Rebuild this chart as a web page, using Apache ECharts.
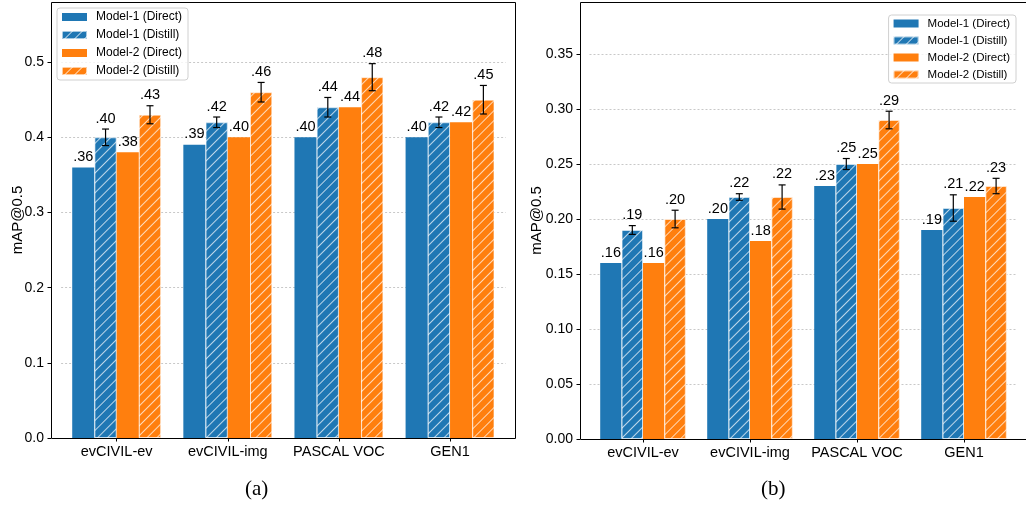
<!DOCTYPE html>
<html>
<head>
<meta charset="utf-8">
<script src="https://cdn.jsdelivr.net/npm/echarts@6/dist/echarts.min.js"></script>
<style>
  html, body { margin: 0; padding: 0; background: #fff; }
  #chart { width: 1026px; height: 506px; }
</style>
</head>
<body>
<div id="chart"></div>
<script>
// Categories and series names shared by both panels
const categories = ['evCIVIL-ev', 'evCIVIL-img', 'PASCAL VOC', 'GEN1'];
const seriesNames = ['Model-1 (Direct)', 'Model-1 (Distill)', 'Model-2 (Direct)', 'Model-2 (Distill)'];

// Panel (a)
const aM1Direct = [0.36, 0.39, 0.40, 0.40];
const aM1Distill = [0.40, 0.42, 0.44, 0.42];
const aM1DistillErr = [0.011, 0.007, 0.013, 0.007];
const aM2Direct = [0.38, 0.40, 0.44, 0.42];
const aM2Distill = [0.43, 0.46, 0.48, 0.45];
const aM2DistillErr = [0.012, 0.013, 0.018, 0.019];
const aTicks = [0, 0.1, 0.2, 0.3, 0.4, 0.5];

// Panel (b)
const bM1Direct = [0.16, 0.20, 0.23, 0.19];
const bM1Distill = [0.19, 0.22, 0.25, 0.21];
const bM1DistillErr = [0.004, 0.003, 0.005, 0.012];
const bM2Direct = [0.16, 0.18, 0.25, 0.22];
const bM2Distill = [0.20, 0.22, 0.29, 0.23];
const bM2DistillErr = [0.008, 0.011, 0.008, 0.007];
const bTicks = [0, 0.05, 0.10, 0.15, 0.20, 0.25, 0.30, 0.35];

const BLUE = '#1f77b4';
const ORANGE = '#ff7f0e';
const FONT = '"Liberation Sans", Arial, sans-serif';

function hatch(color) {
  return {
    color: 'rgba(255,255,255,0.7)',
    backgroundColor: color,
    symbol: 'rect',
    symbolSize: 1,
    dashArrayX: [1, 0],
    dashArrayY: [1, 5.5],
    rotation: -Math.PI / 4
  };
}

function barSeries(name, data, color, hatched, idx) {
  const style = { color: color };
  if (hatched) {
    style.decal = hatch(color);
    style.borderColor = 'rgba(255,255,255,0.6)';
    style.borderWidth = 1;
  }
  return {
    type: 'bar', name: name, data: data,
    xAxisIndex: idx, yAxisIndex: idx,
    barGap: '0%', barCategoryGap: '20%',
    itemStyle: style,
    emphasis: { disabled: true },
    animation: false
  };
}

// Error bars and value labels, positioned on the grouped bars
function overlaySeries(groups, idx) {
  const data = [];
  groups.forEach(function (g, s) {
    g.values.forEach(function (v, c) {
      data.push([c, s, v, g.err ? g.err[c] : 0]);
    });
  });
  return {
    type: 'custom', xAxisIndex: idx, yAxisIndex: idx, z: 5, clip: false,
    animation: false, silent: true,
    encode: { x: 0, y: 2 },
    data: data,
    renderItem: function (params, api) {
      const c = api.value(0), s = api.value(1), v = api.value(2), e = api.value(3);
      const band = api.size([1, 0])[0];
      const bw = band * 0.2;
      const base = api.coord([c, v]);
      const x = base[0] + (s - 1.5) * bw;
      const children = [];
      let topY = base[1];
      if (e > 0) {
        const yHi = api.coord([c, v + e])[1];
        const yLo = api.coord([c, v - e])[1];
        const ls = { stroke: '#000', lineWidth: 1.2 };
        children.push({ type: 'line', shape: { x1: x, y1: yHi, x2: x, y2: yLo }, style: ls });
        children.push({ type: 'line', shape: { x1: x - 3.5, y1: yHi, x2: x + 3.5, y2: yHi }, style: ls });
        children.push({ type: 'line', shape: { x1: x - 3.5, y1: yLo, x2: x + 3.5, y2: yLo }, style: ls });
        topY = yHi;
      }
      children.push({
        type: 'text', x: x, y: topY - 3,
        style: {
          text: v.toFixed(2).replace(/^0/, ''),
          fill: '#000', font: '14.5px ' + FONT,
          align: 'center', verticalAlign: 'bottom'
        }
      });
      return { type: 'group', children: children };
    }
  };
}

function xAxisFor(idx) {
  return {
    type: 'category', gridIndex: idx, data: categories,
    axisLine: { show: false },
    axisTick: { show: true, alignWithLabel: true, length: 3.5, lineStyle: { color: '#000', width: 1 } },
    axisLabel: { color: '#000', fontSize: 14.5, fontFamily: FONT, margin: 6, interval: 0 },
    splitLine: { show: false }
  };
}

function yAxisFor(idx, max, ticks, digits, offset, gap) {
  return {
    type: 'value', gridIndex: idx, min: 0, max: max, interval: ticks[1] - ticks[0],
    offset: offset,
    name: 'mAP@0.5', nameLocation: 'middle', nameGap: gap, nameMoveOverlap: false,
    nameTextStyle: { color: '#000', fontSize: 15, fontFamily: FONT },
    axisLine: { show: false },
    axisTick: { show: true, length: 3.5, lineStyle: { color: '#000', width: 1 }, customValues: ticks },
    axisLabel: {
      color: '#000', fontSize: 14, fontFamily: FONT, margin: 7,
      customValues: ticks,
      formatter: function (v) { return v.toFixed(digits); }
    },
    splitLine: { show: true, lineStyle: { color: '#c8c8c8', type: [2, 2], width: 1 } }
  };
}

function legendFor(pos, fontSize, lineHeight) {
  return Object.assign({
    orient: 'vertical',
    data: seriesNames,
    itemWidth: 25, itemHeight: 8, itemGap: 4,
    icon: 'rect',
    backgroundColor: 'rgba(255,255,255,0.8)',
    borderColor: '#d0d0d0', borderWidth: 1, borderRadius: 3,
    padding: [2, 6, 2, 4],
    selectedMode: false,
    textStyle: { color: '#000', fontSize: fontSize, fontFamily: FONT, lineHeight: lineHeight, padding: [0, 0, 0, 4] }
  }, pos);
}

const chart = echarts.init(document.getElementById('chart'), null, { renderer: 'canvas' });

chart.setOption({
  animation: false,
  backgroundColor: '#fff',
  grid: [
    { left: 61.1, right: 1026 - 505.6, top: 2, bottom: 68 },
    { left: 589.5, right: 1026 - 1017.5, top: 2, bottom: 67 }
  ],
  xAxis: [xAxisFor(0), xAxisFor(1)],
  yAxis: [yAxisFor(0, 0.58, aTicks, 1, 10.1, 26), yAxisFor(1, 0.3973, bTicks, 2, 9.5, 36)],
  legend: [
    legendFor({ left: 57, top: 8 }, 12, 14),
    legendFor({ right: 10, top: 15 }, 11.5, 13)
  ],
  series: [
    barSeries(seriesNames[0], aM1Direct, BLUE, false, 0),
    barSeries(seriesNames[1], aM1Distill, BLUE, true, 0),
    barSeries(seriesNames[2], aM2Direct, ORANGE, false, 0),
    barSeries(seriesNames[3], aM2Distill, ORANGE, true, 0),
    overlaySeries([
      { values: aM1Direct }, { values: aM1Distill, err: aM1DistillErr },
      { values: aM2Direct }, { values: aM2Distill, err: aM2DistillErr }
    ], 0),
    barSeries(seriesNames[0], bM1Direct, BLUE, false, 1),
    barSeries(seriesNames[1], bM1Distill, BLUE, true, 1),
    barSeries(seriesNames[2], bM2Direct, ORANGE, false, 1),
    barSeries(seriesNames[3], bM2Distill, ORANGE, true, 1),
    overlaySeries([
      { values: bM1Direct }, { values: bM1Distill, err: bM1DistillErr },
      { values: bM2Direct }, { values: bM2Distill, err: bM2DistillErr }
    ], 1)
  ],
  graphic: [
    { type: 'rect', z: 10, silent: true, shape: { x: 51.5, y: 2.5, width: 464, height: 436 },
      style: { fill: 'none', stroke: '#000', lineWidth: 1 } },
    { type: 'rect', z: 10, silent: true, shape: { x: 580.5, y: 2.5, width: 450, height: 437 },
      style: { fill: 'none', stroke: '#000', lineWidth: 1 } },
    { type: 'text', left: 245, top: 479, silent: true,
      style: { text: '(a)', fill: '#000', font: '21px "Liberation Serif", "DejaVu Serif", serif' } },
    { type: 'text', left: 761, top: 479, silent: true,
      style: { text: '(b)', fill: '#000', font: '21px "Liberation Serif", "DejaVu Serif", serif' } }
  ]
});
</script>
</body>
</html>
